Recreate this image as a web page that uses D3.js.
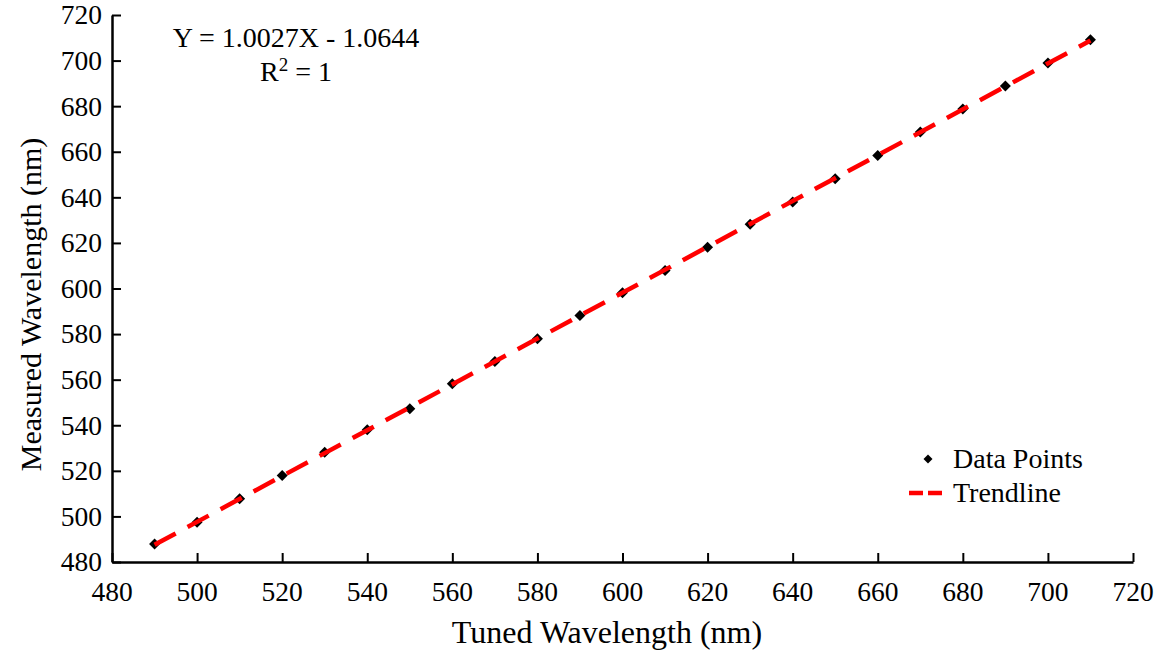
<!DOCTYPE html>
<html>
<head>
<meta charset="utf-8">
<script src="https://cdn.jsdelivr.net/npm/d3@7"></script>
<style>
  html, body { margin: 0; padding: 0; background: #fff; }
  svg { display: block; font-family: "Liberation Serif", "Times New Roman", serif; }
</style>
</head>
<body>
<svg id="chart" width="1161" height="652"></svg>
<script>
// Tuned vs. measured wavelength (nm)
const tuned = [490, 500, 510, 520, 530, 540, 550, 560, 570, 580, 590, 600,
               610, 620, 630, 640, 650, 660, 670, 680, 690, 700, 710];
const measured = [487.9, 497.4, 507.8, 517.9, 528.1, 538.0, 547.2, 558.2, 568.0, 577.9, 588.2, 598.1,
                  607.9, 618.1, 628.2, 638.0, 648.1, 658.3, 668.7, 678.8, 688.9, 698.9, 709.1];
const xTicks = [480, 500, 520, 540, 560, 580, 600, 620, 640, 660, 680, 700, 720];
const yTicks = [480, 500, 520, 540, 560, 580, 600, 620, 640, 660, 680, 700, 720];
const equationText = "Y = 1.0027X - 1.0644";
const legendLabels = ["Data Points", "Trendline"];

const svg = d3.select("#chart");
const m = { left: 112, right: 1133, top: 15, bottom: 562 };

const x = d3.scaleLinear().domain([480, 720]).range([m.left, m.right]);
const y = d3.scaleLinear().domain([480, 720]).range([m.bottom, m.top]);

// Least-squares trendline through the measured points
const n = tuned.length;
const mx = d3.mean(tuned), my = d3.mean(measured);
let sxy = 0, sxx = 0;
for (let i = 0; i < n; i++) {
  sxy += (tuned[i] - mx) * (measured[i] - my);
  sxx += (tuned[i] - mx) ** 2;
}
const slope = sxy / sxx;
const intercept = my - slope * mx;
const xExtent = d3.extent(tuned);
const trend = xExtent.map(v => [v, slope * v + intercept]);

// Axes: inward ticks, no labels from the axis generator
const xAxis = d3.axisBottom(x).tickValues(xTicks).tickSize(-9).tickFormat("").tickSizeOuter(0);
const yAxis = d3.axisLeft(y).tickValues(yTicks).tickSize(-9).tickFormat("").tickSizeOuter(0);

const gx = svg.append("g").attr("transform", `translate(0,${m.bottom})`).call(xAxis);
const gy = svg.append("g").attr("transform", `translate(${m.left},0)`).call(yAxis);
[gx, gy].forEach(g => {
  g.select(".domain").attr("stroke", "#000").attr("stroke-width", 2.5);
  g.selectAll(".tick line").attr("stroke", "#000").attr("stroke-width", 2);
});

// Tick labels
svg.append("g").selectAll("text").data(xTicks).join("text")
  .attr("x", d => x(d)).attr("y", 601)
  .attr("text-anchor", "middle")
  .attr("font-size", 27.5)
  .text(d => d);

svg.append("g").selectAll("text").data(yTicks).join("text")
  .attr("x", 102).attr("y", d => y(d))
  .attr("dy", "0.34em")
  .attr("text-anchor", "end")
  .attr("font-size", 27.5)
  .text(d => d);

// Axis titles
svg.append("text")
  .attr("x", 607).attr("y", 643)
  .attr("text-anchor", "middle")
  .attr("font-size", 32)
  .text("Tuned Wavelength (nm)");

svg.append("text")
  .attr("transform", `translate(41,${(m.top + m.bottom) / 2 + 16}) rotate(-90)`)
  .attr("text-anchor", "middle")
  .attr("font-size", 30)
  .text("Measured Wavelength (nm)");

// Data markers (diamonds)
const diamond = "M0,-5.5L5.5,0L0,5.5L-5.5,0Z";
svg.append("g").selectAll("path").data(tuned).join("path")
  .attr("d", diamond)
  .attr("transform", (d, i) => `translate(${x(d)},${y(measured[i])})`)
  .attr("fill", "#000");

// Trendline drawn over the markers
svg.append("path")
  .datum(trend)
  .attr("d", d3.line().x(d => x(d[0])).y(d => y(d[1])))
  .attr("fill", "none")
  .attr("stroke", "#ff0000")
  .attr("stroke-width", 4.5)
  .attr("stroke-dasharray", "24,13.5");

// Equation annotation
svg.append("text")
  .attr("x", 296).attr("y", 47)
  .attr("text-anchor", "middle")
  .attr("font-size", 28)
  .text(equationText);

const r2 = svg.append("text")
  .attr("x", 296).attr("y", 81)
  .attr("text-anchor", "middle")
  .attr("font-size", 28);
r2.append("tspan").text("R");
r2.append("tspan").attr("font-size", 19).attr("dy", -10).text("2");
r2.append("tspan").attr("dy", 10).text(" = 1");

// Legend
const lg = svg.append("g");
lg.append("path").attr("d", "M0,-4.5L4.5,0L0,4.5L-4.5,0Z")
  .attr("transform", "translate(928,459)").attr("fill", "#000");
lg.append("line")
  .attr("x1", 909).attr("x2", 943).attr("y1", 493).attr("y2", 493)
  .attr("stroke", "#ff0000").attr("stroke-width", 4.5)
  .attr("stroke-dasharray", "14,5");
lg.selectAll("text").data(legendLabels).join("text")
  .attr("x", 953).attr("y", (d, i) => 468 + i * 34)
  .attr("font-size", 28)
  .text(d => d);
</script>
</body>
</html>
